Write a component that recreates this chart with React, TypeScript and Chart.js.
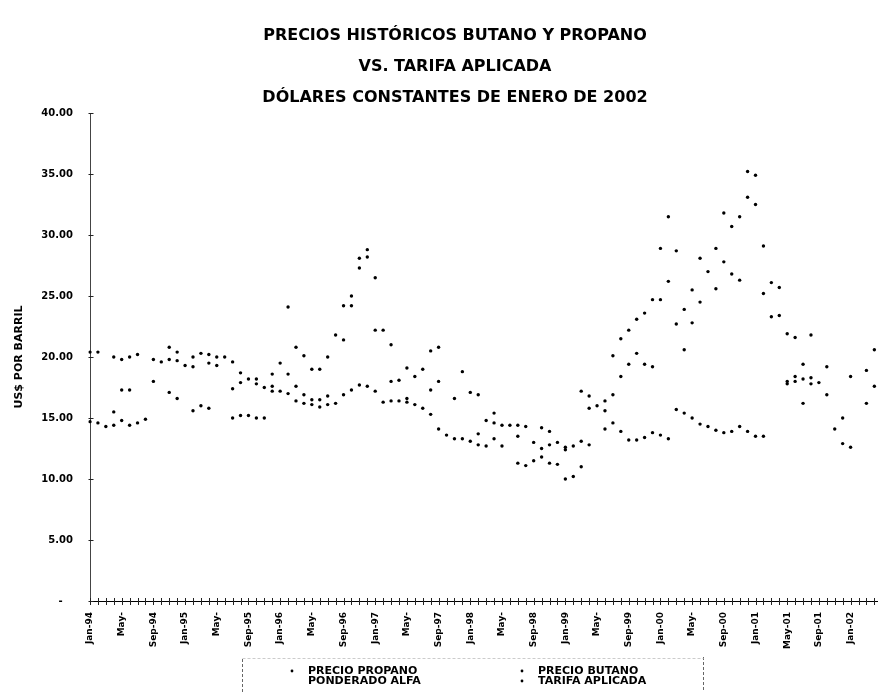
import React, { useEffect, useRef } from 'react';
import { Chart, registerables } from 'chart.js';

Chart.register(...registerables);

const TITLE_LINES = [
  'PRECIOS HISTÓRICOS BUTANO Y PROPANO',
  'VS. TARIFA APLICADA',
  'DÓLARES CONSTANTES DE ENERO DE 2002',
];
const Y_TITLE = 'US$ POR BARRIL';

const MONTHS = ['Jan', 'Feb', 'Mar', 'Apr', 'May', 'Jun', 'Jul', 'Aug', 'Sep', 'Oct', 'Nov', 'Dec'];
const YEARS = ['94', '95', '96', '97', '98', '99', '00', '01', '02'];
const N_MONTHS = 102; // Jan-94 .. Jun-02
const categories: string[] = Array.from(
  { length: N_MONTHS },
  (_, i) => `${MONTHS[i % 12]}-${YEARS[Math.floor(i / 12)]}`
);

const LABEL_EVERY = 4;
const xTickLabels = [
  'Jan-94', 'May-', 'Sep-94', 'Jan-95', 'May-', 'Sep-95', 'Jan-96', 'May-', 'Sep-96',
  'Jan-97', 'May-', 'Sep-97', 'Jan-98', 'May-', 'Sep-98', 'Jan-99', 'May-', 'Sep-99',
  'Jan-00', 'May-', 'Sep-00', 'Jan-01', 'May-01', 'Sep-01', 'Jan-02', 'May-02',
];

const Y_MIN = 0;
const Y_MAX = 40;
const Y_STEP = 5;

const seriesLabels = ['PRECIO PROPANO\nPONDERADO ALFA', 'PRECIO BUTANO', 'TARIFA APLICADA'];

const propano: (number | null)[] = [
  14.7, 14.6, 14.3, 14.4, 14.8, 14.4, 14.6, 14.9, null, null, 17.1, 16.6,
  null, 15.6, 16.0, 15.8, null, null, 15.0, 15.2, 15.2, 15.0, 15.0, 17.2,
  null, 18.6, 17.6, 16.9, 16.5, 16.5, 16.8, null, 21.4, 24.2, 27.3, 28.2,
  22.2, null, 18.0, 18.1, 16.6, 18.4, 19.0, 17.3, 18.0, null, null, null,
  null, 13.7, null, 14.6, null, null, 11.3, 11.1, 11.5, 11.8, 11.3, 11.2,
  10.0, 10.2, 11.0, 12.8, null, 14.1, 16.9, 18.4, 19.4, 20.3, 19.4, 19.2,
  24.7, 26.2, 22.7, 20.6, 22.8, 24.5, null, 25.6, 27.8, 26.8, 26.3, 33.1,
  32.5, 25.2, 23.3, 23.4, 17.8, 18.0, 16.2, 17.8, null, 16.9, 14.1, 12.9,
  12.6, null, 16.2, 17.6, 17.3, null,
];

const butano: (number | null)[] = [
  20.4, 20.4, null, 15.5, 17.3, 17.3, null, null, 18.0, null, 20.8, 20.4,
  null, 20.0, 20.3, 20.2, 20.0, 20.0, 19.6, 18.7, 18.2, 18.2, null, 18.6,
  19.5, 24.1, 20.8, 20.1, 19.0, 19.0, 20.0, 21.8, 24.2, 25.0, 28.1, 28.8,
  26.5, 22.2, 21.0, null, 19.1, null, null, 20.5, 20.8, null, 16.6, 18.8,
  17.1, 16.9, 14.8, 15.4, 14.4, 14.4, 14.4, 14.3, null, 14.2, 13.9, null,
  12.6, null, 13.1, 15.8, null, 15.6, 20.1, 21.5, 22.2, 23.1, 23.6, 24.7,
  28.9, 31.5, 28.7, 23.9, 25.5, 28.1, 27.0, 28.9, 31.8, 30.7, 31.5, 35.2,
  34.9, 29.1, 26.1, 25.7, 21.9, 21.6, 19.4, 21.8, null, 19.2, null, 15.0,
  18.4, null, 18.9, 20.6, null, null,
];

const tarifa: (number | null)[] = [
  null, null, null, 20.0, 19.8, 20.0, 20.2, null, 19.8, 19.6, 19.8, 19.7,
  19.3, 19.2, null, 19.5, 19.3, null, 17.4, 17.9, null, 17.8, 17.5, 17.6,
  17.2, 17.0, 16.4, 16.2, 16.1, 15.9, 16.1, 16.2, 16.9, 17.3, 17.7, 17.6,
  17.2, 16.3, 16.4, 16.4, 16.3, 16.1, 15.8, 15.3, 14.1, 13.6, 13.3, 13.3,
  13.1, 12.8, 12.7, 13.3, 12.7, null, 13.5, null, 13.0, 12.5, 12.8, 13.0,
  12.4, 12.7, 17.2, 16.8, 16.0, 16.4, 14.6, 13.9, 13.2, 13.2, 13.4, 13.8,
  13.6, 13.3, 15.7, 15.4, 15.0, 14.5, 14.3, 14.0, 13.8, 13.9, 14.3, 13.9,
  13.5, 13.5, null, null, 18.0, 18.4, 18.2, 18.3, 17.9, null, null, null,
  null, null, null, null, null, null,
];

const FONT = 'DejaVu Sans';

const crossTicksPlugin = {
  id: 'crossTicks',
  afterDraw(chart: any) {
    const { ctx, scales } = chart;
    const x = scales.x;
    const y = scales.y;
    const y0 = y.getPixelForValue(0);
    ctx.save();
    ctx.strokeStyle = '#222';
    ctx.lineWidth = 1;
    ctx.beginPath();
    x.ticks.forEach((_: any, i: number) => {
      const px = Math.round(x.getPixelForTick(i)) + 0.5;
      ctx.moveTo(px, y0 - 3);
      ctx.lineTo(px, y0 + 4);
    });
    const ax = Math.round(x.left) + 0.5;
    y.ticks.forEach((_: any, i: number) => {
      const py = Math.round(y.getPixelForTick(i)) + 0.5;
      ctx.moveTo(ax - 2, py);
      ctx.lineTo(ax + 3, py);
    });
    ctx.stroke();
    ctx.restore();
  },
};

const boxLegendPlugin = {
  id: 'boxLegend',
  afterDraw(chart: any) {
    const { ctx, chartArea } = chart;
    const base = chartArea.bottom;
    const rowY = [base + 70, base + 80];
    const cols = [{ mark: 284, text: 300 }, { mark: 514, text: 530 }];
    const slots = [
      { col: 0, row: 0 },
      { col: 1, row: 0 },
      { col: 1, row: 1 },
    ];
    ctx.save();
    ctx.strokeStyle = '#666';
    ctx.lineWidth = 1;
    ctx.setLineDash([3, 2]);
    ctx.beginPath();
    ctx.moveTo(234.5, base + 58);
    ctx.lineTo(234.5, chart.height);
    ctx.moveTo(695.5, base + 56);
    ctx.lineTo(695.5, chart.height);
    ctx.stroke();
    ctx.strokeStyle = '#ccc';
    ctx.beginPath();
    ctx.moveTo(234.5, base + 57.5);
    ctx.lineTo(695.5, base + 57.5);
    ctx.stroke();
    ctx.setLineDash([]);

    ctx.font = `bold 11px "${FONT}"`;
    ctx.fillStyle = '#000';
    ctx.textBaseline = 'middle';
    ctx.textAlign = 'left';
    chart.data.datasets.forEach((ds: any, i: number) => {
      const slot = slots[i];
      if (!slot) return;
      const c = cols[slot.col];
      const lines = String(ds.label).split('\n');
      const y0 = rowY[slot.row];
      ctx.beginPath();
      ctx.arc(c.mark, y0, 1.4, 0, Math.PI * 2);
      ctx.fill();
      lines.forEach((line: string, k: number) => {
        ctx.fillText(line, c.text, y0 + k * 10);
      });
    });
    ctx.restore();
  },
};

function makeDataset(label: string, data: (number | null)[]) {
  return {
    label,
    data,
    showLine: false,
    pointRadius: 1.7,
    pointHoverRadius: 1.7,
    pointStyle: 'circle',
    pointBackgroundColor: '#000',
    pointBorderColor: '#000',
    pointBorderWidth: 0,
    borderColor: '#000',
    backgroundColor: '#000',
  };
}

export default function App() {
  const canvasRef = useRef<HTMLCanvasElement | null>(null);

  useEffect(() => {
    document.documentElement.style.overflow = 'hidden';
    document.body.style.overflow = 'hidden';
    const canvas = canvasRef.current;
    if (!canvas) return;
    const chart = new Chart(canvas, {
      type: 'line',
      data: {
        labels: categories,
        datasets: [
          makeDataset(seriesLabels[0], propano),
          makeDataset(seriesLabels[1], butano),
          makeDataset(seriesLabels[2], tarifa),
        ],
      },
      options: {
        animation: false,
        responsive: false,
        devicePixelRatio: 1,
        events: [],
        layout: { padding: { left: 0, right: 10, top: 0, bottom: 41 } },
        plugins: {
          legend: { display: false },
          tooltip: { enabled: false },
          title: {
            display: true,
            text: TITLE_LINES,
            color: '#000',
            font: { family: FONT, weight: 'bold', size: 16, lineHeight: 31 / 16 },
            padding: { top: 12, bottom: 0 },
          },
        },
        scales: {
          x: {
            type: 'category',
            offset: false,
            grid: { display: false, drawTicks: false },
            border: { display: true, color: '#000', width: 1 },
            ticks: {
              autoSkip: false,
              maxRotation: 90,
              minRotation: 90,
              padding: 11,
              color: '#000',
              font: { family: FONT, weight: 'bold', size: 9 },
              callback: (_v: any, index: number) =>
                index % LABEL_EVERY === 0 ? xTickLabels[index / LABEL_EVERY] ?? '' : '',
            },
            afterFit: (s: any) => {
              s.height = 50;
            },
          },
          y: {
            min: Y_MIN,
            max: Y_MAX,
            grid: { display: false, drawTicks: false },
            border: { display: true, color: '#444', width: 1, dash: [5, 2] },
            ticks: {
              stepSize: Y_STEP,
              padding: 17,
              color: '#000',
              font: { family: FONT, weight: 'bold', size: 10 },
              callback: (v: any) => (Number(v) === 0 ? '-   ' : Number(v).toFixed(2)),
            },
            title: {
              display: true,
              text: Y_TITLE,
              color: '#000',
              font: { family: FONT, weight: 'bold', size: 11 },
              padding: { top: 5, bottom: 0 },
            },
            afterFit: (s: any) => {
              s.width = 82;
            },
          },
        },
      } as any,
      plugins: [crossTicksPlugin, boxLegendPlugin],
    });
    return () => {
      chart.destroy();
    };
  }, []);

  return (
    <div style={{ width: 878, height: 684, overflow: 'hidden', background: '#fff' }}>
      <canvas ref={canvasRef} width={904} height={684} style={{ width: 904, height: 684, display: 'block' }} />
    </div>
  );
}
